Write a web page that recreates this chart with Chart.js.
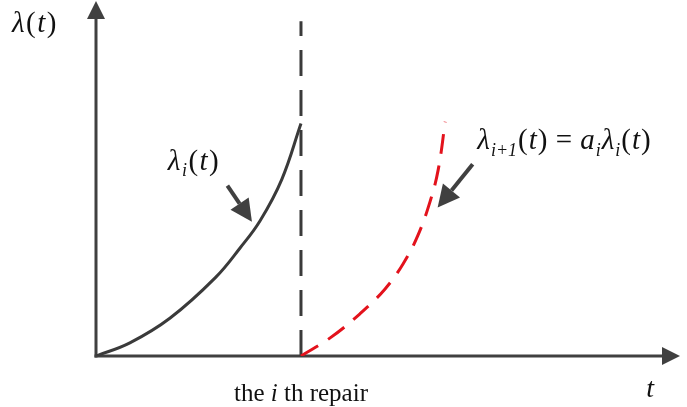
<!DOCTYPE html>
<html lang="en">
<head>
  <meta charset="UTF-8" />
  <title>Failure rate after repair</title>
  <script src="https://cdn.jsdelivr.net/npm/chart.js"></script>
  <style>
    body { margin: 0; background: #fff; }
    #wrap { width: 687px; height: 407px; }
  </style>
</head>
<body>
  <div id="wrap">
    <canvas id="rateChart" width="687" height="407"></canvas>
  </div>

  <script>
    // values (t, lambda in arbitrary units)
    const beforeT = [0, 0.58, 1.27, 2.04, 2.47, 2.81, 3.18, 3.51];
    const beforeRate = [0, 0.37, 1.07, 2.2, 3.05, 3.81, 4.97, 6.55];
    const afterT = [3.51, 4.01, 4.52, 4.95, 5.26, 5.51, 5.72, 5.86, 5.98];
    const afterRate = [0, 0.51, 1.19, 1.89, 2.6, 3.39, 4.35, 5.25, 6.6];
    const repairT = [3.51, 3.51];
    const repairLine = [0, 9.43];

    const axisColor = '#404040';
    const serif = '"Liberation Serif", "Times New Roman", serif';

    // draws a run of text pieces: [text, kind] kind = n (normal), i (italic), s (italic subscript)
    function richText(ctx, parts, x, y, size, align, gap) {
      gap = gap || 0;
      const fontFor = k => {
        if (k === 'i') return 'italic ' + size + 'px ' + serif;
        if (k === 's') return 'italic ' + Math.round(size * 0.62) + 'px ' + serif;
        return size + 'px ' + serif;
      };
      let total = 0;
      parts.forEach(p => { ctx.font = fontFor(p[1]); total += ctx.measureText(p[0]).width + gap; });
      total -= gap;
      let cx = align === 'center' ? x - total / 2 : x;
      ctx.textBaseline = 'alphabetic';
      ctx.textAlign = 'left';
      parts.forEach(p => {
        ctx.font = fontFor(p[1]);
        const dy = p[1] === 's' ? size * 0.22 : 0;
        ctx.fillText(p[0], cx, y + dy);
        cx += ctx.measureText(p[0]).width + gap;
      });
    }

    function arrow(ctx, x1, y1, x2, y2, head, half) {
      const ang = Math.atan2(y2 - y1, x2 - x1);
      const bx = x2 - head * Math.cos(ang), by = y2 - head * Math.sin(ang);
      ctx.beginPath();
      ctx.moveTo(x1, y1);
      ctx.lineTo(bx, by);
      ctx.stroke();
      ctx.beginPath();
      ctx.moveTo(x2, y2);
      ctx.lineTo(bx + half * Math.sin(ang), by - half * Math.cos(ang));
      ctx.lineTo(bx - half * Math.sin(ang), by + half * Math.cos(ang));
      ctx.closePath();
      ctx.fill();
    }

    // axes, arrows and labels
    const sketchPlugin = {
      id: 'sketch',
      beforeDatasetsDraw(chart) {
        const ctx = chart.ctx;
        const xs = chart.scales.x, ys = chart.scales.y;
        const x0 = xs.getPixelForValue(0), y0 = ys.getPixelForValue(0);
        const xEnd = xs.getPixelForValue(xs.max), yEnd = ys.getPixelForValue(ys.max);
        ctx.save();
        ctx.strokeStyle = axisColor;
        ctx.fillStyle = axisColor;
        ctx.lineWidth = 3;
        arrow(ctx, x0, y0 + 1.5, x0, yEnd, 18, 9);
        arrow(ctx, x0 - 1.5, y0, xEnd, y0, 18, 9);
        ctx.restore();
      },
      afterDatasetsDraw(chart) {
        const ctx = chart.ctx;
        const xs = chart.scales.x, ys = chart.scales.y;
        const px = v => xs.getPixelForValue(v);
        const py = v => ys.getPixelForValue(v);
        ctx.save();
        ctx.fillStyle = '#111';
        richText(ctx, [['λ', 'i'], ['(', 'n'], ['t', 'i'], [')', 'n']], 12, 32, 29, 'left', 1.5);
        richText(ctx, [['t', 'i']], px(9.49), 397, 28, 'center');
        richText(ctx, [['the ', 'n'], ['i', 'i'], [' th repair', 'n']], px(3.51), 401, 25, 'center');
        richText(ctx, [['λ', 'i'], ['i', 's'], ['(', 'n'], ['t', 'i'], [')', 'n']], px(1.23), py(5.25), 29, 'left', 1.5);
        richText(ctx, [['λ', 'i'], ['i+1', 's'], ['(', 'n'], ['t', 'i'], [')', 'n'], [' = ', 'n'], ['a', 'i'], ['i', 's'],
                       ['λ', 'i'], ['i', 's'], ['(', 'n'], ['t', 'i'], [')', 'n']], px(6.53), py(5.82), 29, 'left', 1);

        ctx.strokeStyle = axisColor;
        ctx.fillStyle = axisColor;
        ctx.lineWidth = 4;
        arrow(ctx, px(2.25), py(4.8), px(2.67), py(3.78), 22, 11);
        arrow(ctx, px(6.45), py(5.4), px(5.85), py(4.18), 22, 11);
        ctx.restore();
      }
    };

    const toPts = (xsArr, ysArr) => xsArr.map((t, i) => ({ x: t, y: ysArr[i] }));

    new Chart(document.getElementById('rateChart'), {
      type: 'line',
      data: {
        datasets: [
          {
            data: toPts(beforeT, beforeRate),
            borderColor: '#3a3a3a',
            borderWidth: 3,
            tension: 0.4,
            pointRadius: 0
          },
          {
            data: toPts(afterT, afterRate),
            borderColor: '#e3121c',
            borderWidth: 3,
            borderDash: [20, 12],
            tension: 0.4,
            pointRadius: 0
          },
          {
            data: toPts(repairT, repairLine),
            borderColor: '#3a3a3a',
            borderWidth: 3,
            borderDash: [26, 14],
            pointRadius: 0
          }
        ]
      },
      options: {
        responsive: false,
        animation: false,
        layout: { padding: { left: 96, right: 7, top: 1, bottom: 51 } },
        scales: {
          x: { type: 'linear', min: 0, max: 10, display: false },
          y: { type: 'linear', min: 0, max: 10, display: false }
        },
        plugins: {
          legend: { display: false },
          tooltip: { enabled: false }
        }
      },
      plugins: [sketchPlugin]
    });
  </script>
</body>
</html>
